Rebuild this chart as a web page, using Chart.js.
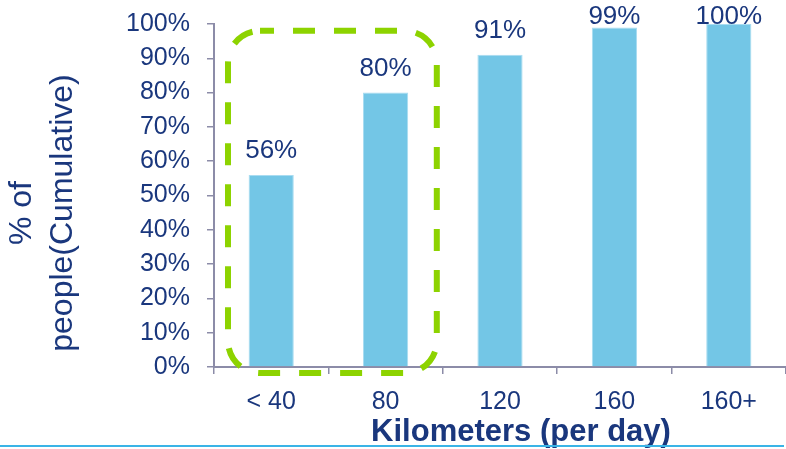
<!DOCTYPE html>
<html>
<head>
<meta charset="utf-8">
<script src="https://cdn.jsdelivr.net/npm/chart.js@4.4.1/dist/chart.umd.min.js"></script>
<style>
  html, body { margin: 0; padding: 0; background: #fff; }
  #wrap { width: 786px; height: 449px; }
</style>
</head>
<body>
<div id="wrap"><canvas id="kmChart" width="786" height="449"></canvas></div>
<script>
const categories = ['< 40', '80', '120', '160', '160+'];
const cumulativePct = [56, 80, 91, 99, 100];
const highlighted = ['< 40', '80'];
const yTitle = ['% of', 'people(Cumulative)'];
const xTitle = 'Kilometers (per day)';

const navy = '#1a377d';
const axisGray = '#8c8ca8';
const fam = '"Liberation Sans", Arial, sans-serif';

// labels, highlight box, axis titles, bottom rule
const extras = {
    id: 'extras',
    afterDatasetsDraw(chart) {
        const { ctx, scales: { x, y } } = chart;
        const meta = chart.getDatasetMeta(0);

        ctx.save();
        ctx.font = '26px ' + fam;
        ctx.fillStyle = navy;
        ctx.textAlign = 'center';
        ctx.textBaseline = 'alphabetic';
        meta.data.forEach((bar, i) => {
            ctx.fillText(cumulativePct[i] + '%', bar.x, Math.max(bar.y - 17, 24));
        });

        /* ---- dashed box ---- */
        const i0 = categories.indexOf(highlighted[0]);
        const i1 = categories.indexOf(highlighted[highlighted.length - 1]);
        const half = (x.getPixelForValue(1) - x.getPixelForValue(0)) / 2;
        const left = x.getPixelForValue(i0) - half + 14;
        const right = x.getPixelForValue(i1) + half - 6;
        const top = y.getPixelForValue(98);
        const bottom = y.bottom + 6;
        ctx.setLineDash([22, 19]);
        ctx.lineDashOffset = 8;
        ctx.lineWidth = 6;
        ctx.strokeStyle = '#8dd300';
        ctx.beginPath();
        ctx.roundRect(left, top, right - left, bottom - top, 32);
        ctx.stroke();
        ctx.setLineDash([]);

        /* ---- axis titles ---- */
        ctx.fillStyle = navy;
        ctx.font = 'bold 31px ' + fam;
        ctx.fillText(xTitle, (x.left + x.right) / 2 + 21, 441);

        ctx.save();
        ctx.translate(0, 213);
        ctx.rotate(-Math.PI / 2);
        ctx.font = '32px ' + fam;
        ctx.textBaseline = 'middle';
        ctx.fillText(yTitle[0], 0, 22);
        ctx.fillText(yTitle[1], 0, 63);
        ctx.restore();

        /* ---- bottom rule ---- */
        ctx.strokeStyle = '#3ab4e6';
        ctx.lineWidth = 2;
        ctx.beginPath();
        ctx.moveTo(0, 446);
        ctx.lineTo(784, 446);
        ctx.stroke();
        ctx.restore();
    }
};

new Chart(document.getElementById('kmChart'), {
    type: 'bar',
    data: {
        labels: categories,
        datasets: [{
            data: cumulativePct,
            backgroundColor: '#73c6e6',
            borderColor: '#a9dcf1',
            borderWidth: 1,
            categoryPercentage: 1,
            barPercentage: 0.395
        }]
    },
    options: {
        responsive: false,
        animation: false,
        layout: { padding: { top: 24, right: 0, left: 0, bottom: 0 } },
        plugins: { legend: { display: false }, tooltip: { enabled: false } },
        scales: {
            x: {
                grid: { drawOnChartArea: false, tickLength: 7, color: axisGray, lineWidth: 1.5, offset: true },
                border: { color: axisGray, width: 2 },
                ticks: { color: navy, font: { size: 25, family: fam }, padding: 13, maxRotation: 0 },
                afterFit(s) { s.height = 82; s.paddingLeft = 0; s.paddingRight = 0; }
            },
            y: {
                min: 0,
                max: 100,
                grid: { drawOnChartArea: false, tickLength: 7, color: axisGray, lineWidth: 1.5 },
                border: { color: axisGray, width: 2 },
                ticks: {
                    stepSize: 10,
                    autoSkip: false,
                    color: navy,
                    font: { size: 25, family: fam, lineHeight: 1 },
                    padding: 17,
                    callback: v => v + '%'
                },
                afterFit(s) { s.width = 214; s.paddingTop = 0; s.paddingBottom = 0; }
            }
        }
    },
    plugins: [extras]
});
</script>
</body>
</html>
